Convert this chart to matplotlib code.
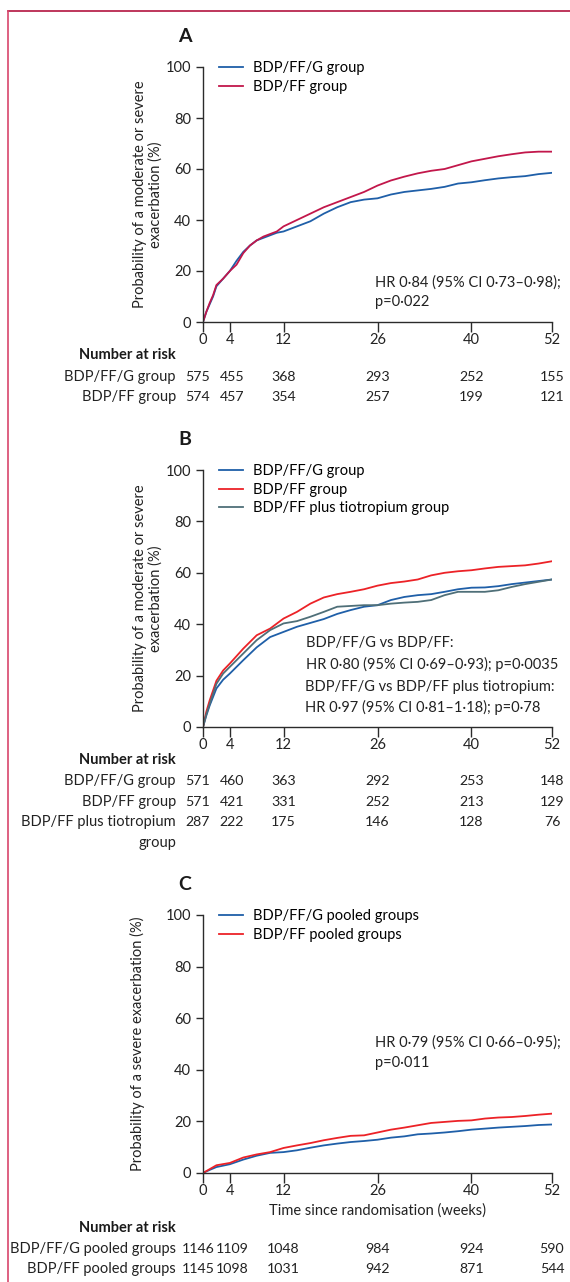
import matplotlib
matplotlib.use("Agg")
import matplotlib.pyplot as plt
from matplotlib.lines import Line2D
from matplotlib.transforms import blended_transform_factory, offset_copy

plt.rcParams['font.family'] = ['Lato', 'DejaVu Sans']
plt.rcParams['font.size'] = 10

W, H = 570, 1282

# ---- data ----
ticks = [0, 4, 12, 26, 40, 52]

weeks_a = [0, 0.5, 1, 1.5, 2, 3, 4, 5, 6, 7, 8, 9, 10, 11, 12,
           14, 16, 18, 20, 22, 24, 26, 28, 30, 32, 34, 36, 38, 40, 42, 44, 46, 48, 50, 52]
a_triple = [0, 4, 7, 10, 14, 17, 20, 24, 27.5, 30, 32, 33, 34, 35, 35.5,
            37.5, 39.5, 42.5, 45, 47, 48, 48.5, 50, 51, 51.6, 52.2, 53, 54.3, 54.8, 55.6,
            56.3, 56.8, 57.2, 58, 58.5]
a_dual = [0, 4, 7.5, 10.5, 14.5, 17, 20, 22.5, 27, 30, 32, 33.5, 34.5, 35.5, 37.5,
          40, 42.5, 45, 47, 49, 51, 53.5, 55.5, 57, 58.3, 59.3, 60, 61.5, 63, 64,
          65, 65.8, 66.5, 66.8, 66.8]
risk_a_triple = [575, 455, 368, 293, 252, 155]
risk_a_dual = [574, 457, 354, 257, 199, 121]

weeks_b = [0, 0.5, 1, 2, 3, 4, 6, 8, 10, 12, 14, 16, 18, 20, 22, 24, 26,
           28, 30, 32, 34, 36, 38, 40, 42, 44, 46, 48, 50, 52]
b_triple = [0, 4.5, 8.4, 15, 18.4, 20.8, 26, 31, 35, 37, 39, 40.5, 42, 44, 45.5, 46.8, 47.4,
            49.4, 50.6, 51.3, 51.7, 52.6, 53.6, 54.2, 54.3, 54.8, 55.6, 56.2, 56.8, 57.4]
b_dual = [0, 6, 10.4, 18, 22, 24.7, 30.5, 35.7, 38.3, 42.2, 44.8, 48, 50.4, 51.7, 52.6, 53.6, 55,
          56, 56.6, 57.4, 59, 60, 60.6, 61, 61.7, 62.3, 62.6, 62.9, 63.6, 64.5]
b_tio = [0, 5, 9, 16.8, 20.8, 23.4, 28.6, 33.8, 37.7, 40.3, 41.2, 42.9, 44.8, 46.8, 47.1, 47.4, 47.4,
         48, 48.4, 48.7, 49.4, 51.3, 52.6, 52.6, 52.6, 53.2, 54.5, 55.6, 56.5, 57.4]
risk_b_triple = [571, 460, 363, 292, 253, 148]
risk_b_dual = [571, 421, 331, 252, 213, 129]
risk_b_tio = [287, 222, 175, 146, 128, 76]

weeks_c = [0, 1, 2, 4, 6, 8, 10, 12, 14, 16, 18, 20, 22, 24, 26,
           28, 30, 32, 34, 36, 38, 40, 42, 44, 46, 48, 50, 52]
c_triple = [0, 1.2, 2.3, 3.4, 5.2, 6.7, 7.8, 8.1, 8.8, 9.8, 10.7, 11.4, 12, 12.4, 12.9,
            13.7, 14.2, 15, 15.3, 15.7, 16.2, 16.8, 17.2, 17.6, 17.9, 18.2, 18.6, 18.8]
c_dual = [0, 1.5, 3, 3.9, 6, 7.2, 8.1, 9.7, 10.7, 11.6, 12.7, 13.6, 14.4, 14.6, 15.7,
          16.8, 17.6, 18.5, 19.4, 19.8, 20.2, 20.4, 21.1, 21.5, 21.7, 22.1, 22.6, 23]
risk_c_triple = [1146, 1109, 1048, 984, 924, 590]
risk_c_dual = [1145, 1098, 1031, 942, 871, 544]

blue = '#1f5fa8'
crimson = '#c2174b'
red = '#ec2227'
grey = '#4f6f78'
axc = '#2b2b2b'

fig = plt.figure(figsize=(W / 100, H / 100), dpi=100)


def fy(py):
    return 1 - py / H


def panel(letter, top, bottom, ylabel, ylab_x, series, notes, rows, row_ys, risk_y):
    ax = fig.add_axes([203 / W, fy(bottom), (552 - 203) / W, (bottom - top) / H])
    for x, y, c, lab in series:
        ax.plot(x, y, color=c, lw=1.3, label=lab)
    ax.set_xlim(0, 52)
    ax.set_ylim(0, 100)
    ax.set_xticks(ticks)
    ax.set_yticks([0, 20, 40, 60, 80, 100])
    for s in ['top', 'right']:
        ax.spines[s].set_visible(False)
    for s in ['left', 'bottom']:
        ax.spines[s].set_color(axc)
        ax.spines[s].set_linewidth(1.0)
    ax.tick_params(axis='both', colors=axc, labelcolor='#222222', labelsize=10.5,
                   length=5, width=1.0, direction='out')
    ax.tick_params(axis='x', length=7, pad=1)
    ax.set_ylabel(ylabel, fontsize=10.5, color='#222222', linespacing=1.15)
    ax.yaxis.set_label_coords(ylab_x, 0.5)
    ax.legend(loc='upper left', bbox_to_anchor=(0.045, 1.022), frameon=False,
              handlelength=1.65, handletextpad=0.7, labelspacing=0.3,
              borderpad=0, borderaxespad=0, fontsize=10.5)
    for xw, yv, txt in notes:
        ax.text(xw, yv, txt, fontsize=10.5, color='#222222', va='center', ha='left')
    fig.text(185 / W, fy(top - 30), letter, fontsize=14, fontweight='bold',
             ha='center', va='center', color='#1a1a1a')
    fig.text(176 / W, fy(risk_y), 'Number at risk', fontsize=10.5, fontweight='bold',
             ha='right', va='center', color='#1a1a1a')
    tr = blended_transform_factory(ax.transData, fig.transFigure)
    shifts = [-5, 2, 0, 0, 0, 0]
    for (lab, vals), py in zip(rows, row_ys):
        fig.text(176 / W, fy(py), lab, fontsize=10.5, ha='right', va='center', color='#222222')
        if vals is None:
            continue
        for t, v, dx in zip(ticks, vals, shifts):
            ax.text(t, fy(py), str(v), fontsize=10.2, ha='center', va='center', color='#222222',
                    transform=offset_copy(tr, fig=fig, x=dx, y=0, units='dots'))
    return ax


panel('A', 67, 322, 'Probability of a moderate or severe\nexacerbation (%)', -0.115,
      [(weeks_a, a_triple, blue, 'BDP/FF/G group'),
       (weeks_a, a_dual, crimson, 'BDP/FF group')],
      [(25.6, 15.6, 'HR 0\u00b784 (95% CI 0\u00b773\u20130\u00b798);'),
       (25.6, 7.8, 'p=0\u00b7022')],
      [('BDP/FF/G group', risk_a_triple), ('BDP/FF group', risk_a_dual)],
      [377, 397], 355)

panel('B', 470, 727, 'Probability of a moderate or severe\nexacerbation (%)', -0.115,
      [(weeks_b, b_triple, blue, 'BDP/FF/G group'),
       (weeks_b, b_dual, red, 'BDP/FF group'),
       (weeks_b, b_tio, grey, 'BDP/FF plus tiotropium group')],
      [(15.3, 32.5, 'BDP/FF/G vs BDP/FF:'),
       (15.4, 24.4, 'HR 0\u00b780 (95% CI 0\u00b769\u20130\u00b793); p=0\u00b70035'),
       (15.2, 15.6, 'BDP/FF/G vs BDP/FF plus tiotropium:'),
       (15.2, 7.5, 'HR 0\u00b797 (95% CI 0\u00b781\u20131\u00b718); p=0\u00b778')],
      [('BDP/FF/G group', risk_b_triple), ('BDP/FF group', risk_b_dual),
       ('BDP/FF plus tiotropium', risk_b_tio), ('group', None)],
      [781, 802, 822, 843], 760)

axc_ = panel('C', 915, 1173, 'Probability of a severe exacerbation (%)', -0.165,
             [(weeks_c, c_triple, blue, 'BDP/FF/G pooled groups'),
              (weeks_c, c_dual, red, 'BDP/FF pooled groups')],
             [(25.6, 50.6, 'HR 0\u00b779 (95% CI 0\u00b766\u20130\u00b795);'),
              (25.6, 42.7, 'p=0\u00b7011')],
             [('BDP/FF/G pooled groups', risk_c_triple), ('BDP/FF pooled groups', risk_c_dual)],
             [1249, 1269], 1228)
axc_.set_xlabel('Time since randomisation (weeks)', fontsize=10.5, color='#222222', labelpad=4)

# frame lines
fig.add_artist(Line2D([8 / W, 1], [fy(11), fy(11)], color='#b3143f', lw=1.2))
fig.add_artist(Line2D([8 / W, 8 / W], [fy(11), 0], color='#d8466c', lw=1.2))

fig.savefig('out.png', dpi=100)
